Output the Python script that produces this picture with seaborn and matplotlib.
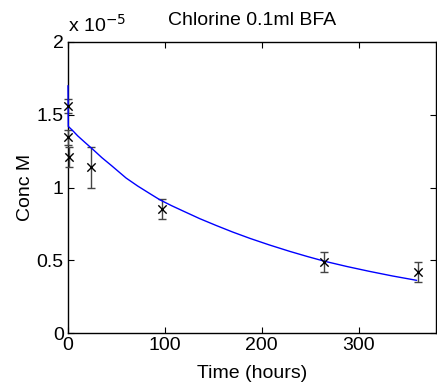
import matplotlib
matplotlib.use("Agg")
import matplotlib.pyplot as plt
import seaborn as sns
import pandas as pd
from matplotlib.ticker import FuncFormatter

# measured data (concentration in units of 1e-5 M)
time_h = [0, 0, 1, 24, 97, 264, 361]
conc = [1.56, 1.345, 1.21, 1.14, 0.853, 0.488, 0.419]
conc_err = [0.05, 0.05, 0.07, 0.14, 0.07, 0.07, 0.07]

# fitted curve
fit_t = [0, 0.3, 5, 10, 17.5, 26, 35, 45, 60, 72, 84.5, 95, 107, 119, 136, 153,
         170, 188, 208, 229, 247, 265, 288, 311, 335, 360]
fit_c = [1.70, 1.42, 1.39, 1.355, 1.31, 1.26, 1.205, 1.15, 1.065, 1.01, 0.958,
         0.915, 0.875, 0.838, 0.786, 0.739, 0.694, 0.65, 0.605, 0.561, 0.526,
         0.493, 0.457, 0.424, 0.392, 0.362]

x_ticks = [0, 100, 200, 300]
y_ticks = [0, 0.5, 1, 1.5, 2]

sns.set_style("ticks")
plt.rcParams['font.family'] = ['Liberation Sans', 'DejaVu Sans']
plt.rcParams['text.color'] = 'black'
plt.rcParams['axes.labelcolor'] = 'black'

FS = 14

fig = plt.figure(figsize=(4.37, 3.90), dpi=100)
ax = fig.add_axes([68 / 437, 1 - 333 / 390, (436 - 68) / 437, (333 - 42) / 390])

df_fit = pd.DataFrame({"t": fit_t, "c": fit_c})
df_pts = pd.DataFrame({"t": time_h, "c": conc})

sns.lineplot(data=df_fit, x="t", y="c", ax=ax, color="#0000ff", linewidth=1.0,
             sort=False, estimator=None, zorder=5, clip_on=False)
ax.errorbar(time_h, conc, yerr=conc_err, fmt="none", ecolor="#444444",
            elinewidth=1.0, capsize=3, capthick=1.0, zorder=3, clip_on=False)
sns.scatterplot(data=df_pts, x="t", y="c", ax=ax, marker="x", color="black",
                s=36, linewidth=1.0, zorder=6, clip_on=False)

ax.set_xlim(0, 380)
ax.set_ylim(0, 2)
ax.set_xticks(x_ticks)
ax.set_yticks(y_ticks)
ax.yaxis.set_major_formatter(FuncFormatter(lambda v, p: "%g" % v))

for s in ax.spines.values():
    s.set_visible(True)
    s.set_linewidth(1.0)
    s.set_color("black")
ax.tick_params(direction="in", length=4, width=0.8, top=True, right=True,
               labelsize=FS, pad=3, colors="black")

ax.set_xlabel("Time (hours)", fontsize=FS, labelpad=8)
ax.set_ylabel("Conc M", fontsize=FS, labelpad=2)
ax.set_title("Chlorine 0.1ml BFA", fontsize=FS, pad=12, color="black")
ax.text(0.0, 1.02, r"x 10$^{-5}$", transform=ax.transAxes, fontsize=FS,
        ha="left", va="bottom", color="black")

fig.savefig("out.png", dpi=100)
